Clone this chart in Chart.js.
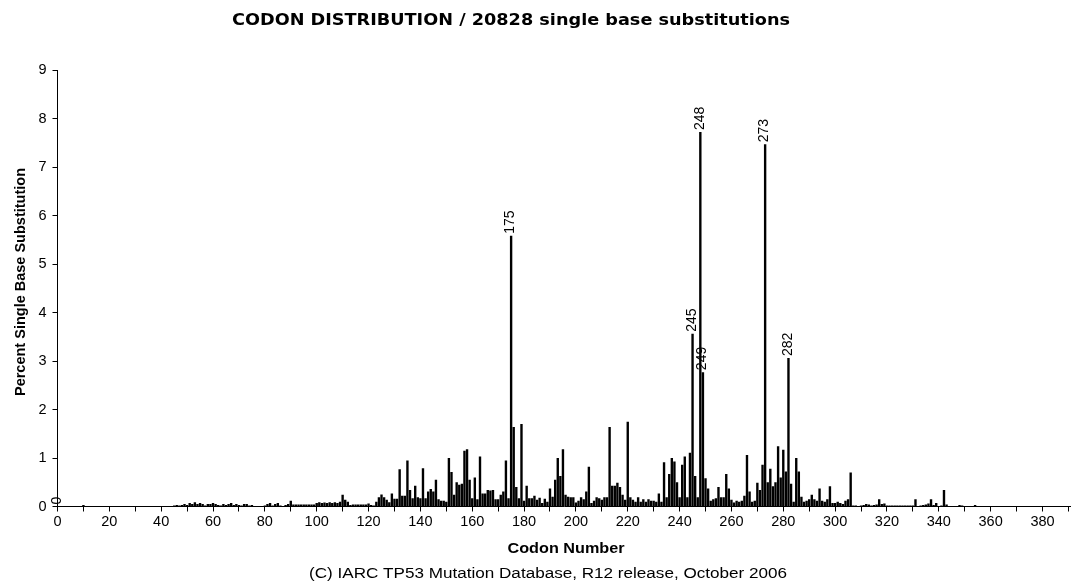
<!DOCTYPE html>
<html><head><meta charset="utf-8">
<script src="https://cdn.jsdelivr.net/npm/chart.js@4/dist/chart.umd.min.js"></script>
<style>html,body{margin:0;padding:0;background:#fff;}canvas{display:block;}</style>
</head><body>
<canvas id="c" width="1071" height="583"></canvas>
<script>
const titleText = "CODON DISTRIBUTION / 20828 single base substitutions";
const xTitle = "Codon Number";
const yTitle = "Percent Single Base Substitution";
const footerText = "(C) IARC TP53 Mutation Database, R12 release, October 2006";

// percent of substitutions per codon, starting at codon 0
const firstCodon = 0;
const values = [
 0,0,0,0,0,0,0,0,0,0,
 0.03,0,0,0,0,0,0,0,0,0,
 0,0,0,0,0,0,0,0,0,0,
 0,0,0,0,0,0,0,0,0,0,
 0,0,0,0,0,0.02,0.03,0.02,0.03,0.05,
 0.03,0.07,0.05,0.09,0.05,0.07,0.05,0.02,0.05,0.05,
 0.07,0.05,0.03,0.02,0.05,0.03,0.05,0.07,0.03,0.05,
 0.03,0.02,0.05,0.05,0.02,0.03,0,0,0,0,
 0.02,0.05,0.07,0.02,0.05,0.07,0.02,0,0.03,0.05,
 0.12,0.04,0.04,0.04,0.04,0.04,0.04,0.04,0.04,0.04,
 0.07,0.09,0.07,0.08,0.07,0.09,0.07,0.09,0.07,0.10,
 0.24,0.14,0.10,0.03,0.04,0.04,0.04,0.04,0.04,0.04,
 0.06,0.03,0.02,0.10,0.19,0.25,0.19,0.14,0.09,0.27,
 0.16,0.16,0.77,0.22,0.22,0.95,0.34,0.17,0.43,0.19,
 0.17,0.79,0.17,0.31,0.36,0.31,0.55,0.15,0.12,0.12,
 0.10,1.00,0.71,0.24,0.50,0.45,0.47,1.15,1.18,0.55,
 0.17,0.60,0.15,1.03,0.27,0.27,0.34,0.33,0.34,0.15,
 0.15,0.24,0.31,0.95,0.17,5.58,1.64,0.40,0.17,1.70,
 0.12,0.43,0.17,0.17,0.22,0.14,0.18,0.07,0.16,0.10,
 0.37,0.20,0.55,1.00,0.63,1.18,0.24,0.20,0.19,0.19,
 0.08,0.12,0.19,0.15,0.31,0.82,0.07,0.12,0.19,0.17,
 0.14,0.19,0.19,1.64,0.43,0.43,0.49,0.40,0.24,0.14,
 1.75,0.19,0.14,0.10,0.19,0.10,0.15,0.10,0.15,0.12,
 0.12,0.10,0.27,0.10,0.91,0.19,0.67,1.00,0.93,0.50,
 0.19,0.86,1.03,0.19,1.11,3.56,0.63,0.19,7.72,2.77,
 0.58,0.37,0.12,0.15,0.17,0.40,0.19,0.19,0.67,0.37,
 0.14,0.08,0.12,0.10,0.12,0.22,1.06,0.31,0.10,0.12,
 0.49,0.34,0.86,7.47,0.50,0.78,0.42,0.50,1.24,0.60,
 1.17,0.72,3.06,0.47,0.10,1.00,0.72,0.20,0.10,0.12,
 0.15,0.24,0.15,0.12,0.37,0.12,0.10,0.15,0.42,0.07,
 0.07,0.10,0.07,0.05,0.12,0.15,0.70,0.02,0.02,0.01,
 0.02,0.03,0.05,0.04,0.02,0.03,0.04,0.15,0.05,0.06,
 0.02,0.02,0.02,0.02,0.02,0.02,0.02,0.02,0.02,0.02,
 0.02,0.15,0.01,0.02,0.03,0.04,0.06,0.15,0.03,0.07,
 0.01,0.02,0.34,0.04,0,0,0,0,0.03,0.02,
 0,0,0,0,0.03
];
const labeledCodons = [0, 175, 245, 248, 249, 273, 282];
const xMin = 0, xMax = 391, xStep = 10, xLabelEvery = 20;
const yMin = 0, yMax = 9, yStep = 1;

const points = values.map((v, i) => ({ x: firstCodon + i, y: v }));

function fitText(ctx, text, cx, cy, width) {
  const w = ctx.measureText(text).width;
  ctx.save();
  ctx.translate(cx, cy);
  ctx.scale(width / w, 1);
  ctx.textAlign = 'center';
  ctx.fillText(text, 0, 0);
  ctx.restore();
}

const textPlugin = {
  id: 'texts',
  afterDraw(chart) {
    const ctx = chart.ctx;
    const xs = chart.scales.x, ys = chart.scales.y;
    ctx.save();
    ctx.fillStyle = '#000';
    ctx.textBaseline = 'alphabetic';
    // title
    ctx.font = 'bold 15px "DejaVu Sans"';
    fitText(ctx, titleText, 511, 25, 558);
    // y title
    ctx.save();
    ctx.font = 'bold 14.5px "Liberation Sans", Arial, sans-serif';
    ctx.translate(21, 282);
    ctx.rotate(-Math.PI / 2);
    ctx.textAlign = 'center';
    ctx.textBaseline = 'middle';
    ctx.fillText(yTitle, 0, 0);
    ctx.restore();
    // x title
    ctx.textBaseline = 'middle';
    ctx.font = 'bold 15px "Liberation Sans", Arial, sans-serif';
    fitText(ctx, xTitle, 566, 549, 117);
    // footer
    ctx.font = '14px "Liberation Sans", Arial, sans-serif';
    fitText(ctx, footerText, 548, 574, 478);
    // bar labels
    ctx.font = '14px "Liberation Sans", Arial, sans-serif';
    labeledCodons.forEach(c => {
      const v = values[c - firstCodon];
      const px = xs.getPixelForValue(c);
      const py = ys.getPixelForValue(v);
      ctx.save();
      ctx.translate(px - 0.5, py - 2);
      ctx.rotate(-Math.PI / 2);
      ctx.textAlign = 'left';
      ctx.textBaseline = 'middle';
      ctx.fillText(String(c), 0, 0);
      ctx.restore();
    });
    ctx.restore();
  }
};

new Chart(document.getElementById('c'), {
  type: 'bar',
  data: { datasets: [{ data: points, backgroundColor: '#000', borderWidth: 0, barPercentage: 0.92, categoryPercentage: 1.0 }] },
  options: {
    responsive: false, animation: false, devicePixelRatio: 1,
    layout: { padding: { left: 0, right: 0, top: 70, bottom: 0 } },
    plugins: { legend: { display: false }, tooltip: { enabled: false }, title: { display: false } },
    scales: {
      x: {
        type: 'linear', min: xMin, max: xMax, offset: false,
        grid: { offset: false, drawOnChartArea: false, drawTicks: true, tickLength: 5, color: '#000' },
        border: { display: true, color: '#000', width: 1 },
        ticks: {
          stepSize: xStep, autoSkip: false, maxRotation: 0, minRotation: 0, includeBounds: false,
          color: '#000', padding: 2, font: { family: '"Liberation Sans", Arial, sans-serif', size: 14.5 },
          callback: v => (v % xLabelEvery === 0 ? String(v) : '')
        },
        afterFit: s => { s.height = 76.5; }
      },
      y: {
        min: yMin, max: yMax,
        grid: { drawOnChartArea: false, drawTicks: true, tickLength: 5, color: '#000' },
        border: { display: true, color: '#000', width: 1 },
        ticks: { stepSize: yStep, color: '#000', padding: 6, font: { family: '"Liberation Sans", Arial, sans-serif', size: 14.5 } },
        afterFit: s => { s.width = 57.5; }
      }
    }
  },
  plugins: [textPlugin]
});
</script>
</body></html>
